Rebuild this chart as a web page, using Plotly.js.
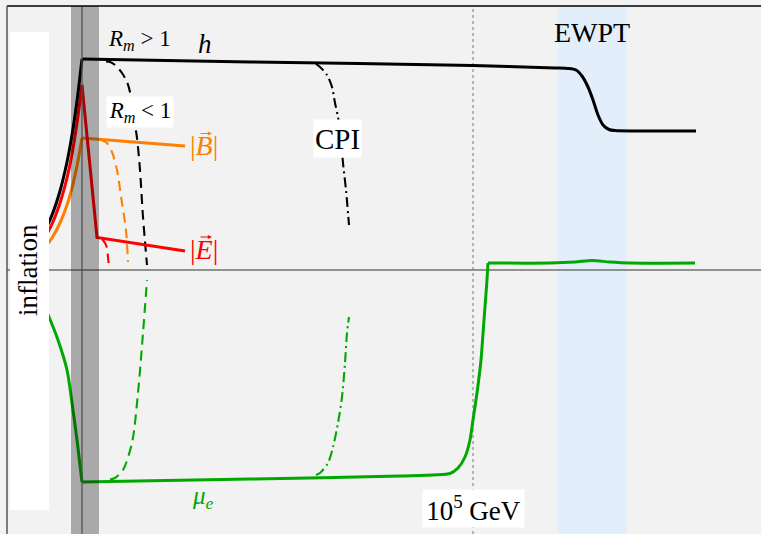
<!DOCTYPE html>
<html>
<head>
<meta charset="utf-8">
<script src="https://cdn.plot.ly/plotly-3.0.1.min.js"></script>
<style>html,body{margin:0;padding:0;background:#f2f2f2;}</style>
</head>
<body>
<div id="chart" style="width:761px;height:534px;"></div>
<script>
// Schematic amplitudes (arbitrary units) versus time (arbitrary units)
// h (helicity), growing during inflation
const hRiseX = [4.0, 4.5, 5.2, 6.0, 6.7, 7.2, 7.7, 8.2];
const hRiseY = [3.3, 4.0, 5.5, 7.9, 10.8, 13.5, 16.9, 21.1];
const hAfterX = [8.2, 25.0, 47.3, 55.5, 56.8, 57.6, 58.2, 58.8, 59.3, 59.8, 60.3, 60.9, 61.5, 69.6];
const hAfterY = [21.1, 20.8, 20.45, 20.2, 20.15, 20.0, 19.4, 18.3, 17.0, 15.5, 14.5, 14.05, 13.95, 13.9];

// |E|
const eRiseX = [4.0, 4.5, 5.2, 6.0, 6.7, 7.2, 7.7, 8.2];
const eRiseY = [2.7, 3.3, 4.6, 6.7, 9.2, 11.6, 14.7, 18.5];
const eAfterX = [8.2, 9.7, 18.5];
const eAfterY = [18.5, 3.25, 1.9];

// |B|
const bRiseX = [4.0, 4.5, 5.2, 6.0, 6.7, 7.2, 7.7, 8.2];
const bRiseY = [1.8, 2.3, 3.2, 4.7, 6.5, 8.2, 10.4, 13.2];
const bAfterX = [8.2, 18.5];
const bAfterY = [13.2, 12.4];

// mu_e
const muFallX = [4.0, 4.5, 4.9, 5.8, 6.7, 7.2, 7.7, 8.2];
const muFallY = [-3.0, -3.8, -4.7, -7.0, -10.0, -13.3, -17.0, -21.2];
const muAfterX = [8.2, 25.0, 40.0, 45.0, 45.8, 46.5, 47.0, 47.3, 47.7, 48.1, 48.4, 48.7, 48.8];
const muAfterY = [-21.2, -20.9, -20.6, -20.35, -19.8, -18.7, -17.0, -15.0, -12.3, -9.0, -5.0, -1.0, 0.7];
const muLateX = [48.8, 55.0, 57.5, 59.2, 61.0, 63.0, 69.5];
const muLateY = [0.7, 0.7, 0.8, 0.95, 0.8, 0.7, 0.7];

// R_m < 1 branches (dashed)
const hRmX = [10.6, 11.0, 11.5, 12.2, 12.7, 13.0, 13.3, 13.7, 14.0, 14.3, 14.7];
const hRmY = [20.85, 20.8, 20.5, 19.7, 18.8, 17.8, 15.8, 13.2, 10.0, 5.3, 0.5];
const bRmX = [10.0, 10.7, 11.2, 11.7, 12.2, 12.6, 12.8];
const bRmY = [13.05, 12.7, 11.8, 10.0, 6.7, 4.0, 0.8];
const eRmX = [10.2, 10.5, 10.7, 10.8, 10.9];
const eRmY = [3.1, 2.7, 2.2, 1.3, 0.3];
const muRmX = [11.0, 11.5, 12.3, 13.2, 13.8, 14.3, 14.7];
const muRmY = [-20.95, -20.8, -20.0, -17.3, -12.3, -6.3, -1.0];

// CPI branches (dash-dot)
const hCpiX = [31.6, 32.0, 32.7, 33.2, 33.5, 33.8, 34.1, 34.3, 34.6, 34.9];
const hCpiY = [20.6, 20.3, 19.5, 18.3, 16.7, 15.3, 13.0, 10.7, 8.0, 4.5];
const muCpiX = [31.6, 32.0, 32.8, 33.3, 33.8, 34.2, 34.5, 34.7, 34.9];
const muCpiY = [-20.5, -20.3, -19.3, -17.7, -15.3, -12.7, -9.3, -6.3, -4.7];

const BLACK = '#000000', RED = '#ff0000', ORANGE = '#ff8000', GREEN = '#00a800';
const SERIF = 'Liberation Serif, Times New Roman, serif';

function ln(x, y, color, width, dash, shape, smoothing) {
  const l = {color: color, width: width, dash: dash || 'solid', shape: shape || 'linear'};
  if (smoothing !== undefined) l.smoothing = smoothing;
  return {x: x, y: y, type: 'scatter', mode: 'lines', line: l, hoverinfo: 'skip', showlegend: false};
}

const DASH = '10px,6px', DASHDOT = '10px,4px,2px,4px';
const traces = [
  ln(muRmX, muRmY, GREEN, 2.1, DASH, 'spline', 0.8),
  ln(muCpiX, muCpiY, GREEN, 2.1, DASHDOT, 'spline', 0.8),
  ln(hRmX, hRmY, BLACK, 2.1, DASH, 'spline', 0.8),
  ln(hCpiX, hCpiY, BLACK, 2.1, DASHDOT, 'spline', 0.8),
  ln(bRmX, bRmY, ORANGE, 2.1, DASH, 'spline', 0.8),
  ln(eRmX, eRmY, RED, 2.1, DASH, 'spline', 0.8),
  ln(muFallX, muFallY, GREEN, 3, 'solid', 'spline', 0.8),
  ln(muAfterX, muAfterY, GREEN, 3, 'solid', 'spline', 0.6),
  ln(muLateX, muLateY, GREEN, 3, 'solid', 'spline', 0.8),
  ln(bRiseX, bRiseY, ORANGE, 3, 'solid', 'spline', 0.8),
  ln(bAfterX, bAfterY, ORANGE, 3),
  ln(eRiseX, eRiseY, RED, 3, 'solid', 'spline', 0.8),
  ln(eAfterX, eAfterY, RED, 3),
  ln(hRiseX, hRiseY, BLACK, 3, 'solid', 'spline', 0.8),
  ln(hAfterX, hAfterY, BLACK, 3, 'solid', 'spline', 0.7)
];

const YTOP = 26.4, YBOT = -26.4;
const shapes = [
  // EWPT band
  {type: 'rect', layer: 'below', xref: 'x', yref: 'y', x0: 55.8, x1: 62.7, y0: YBOT, y1: YTOP, fillcolor: '#e2eefa', line: {width: 0}},
  // 10^5 GeV marker
  {type: 'line', layer: 'below', xref: 'x', yref: 'y', x0: 47.3, x1: 47.3, y0: YBOT, y1: YTOP, line: {color: '#777777', width: 1, dash: '3px,3px'}},
  // zero line
  {type: 'line', layer: 'below', xref: 'x', yref: 'y', x0: 0.7, x1: 76.1, y0: 0, y1: 0, line: {color: '#707070', width: 1.5}},
  // end of inflation band
  {type: 'rect', layer: 'above', xref: 'x', yref: 'y', x0: 7.1, x1: 9.9, y0: YBOT, y1: YTOP, fillcolor: 'rgba(0,0,0,0.3)', line: {width: 0}},
  {type: 'line', layer: 'above', xref: 'x', yref: 'y', x0: 8.2, x1: 8.2, y0: YBOT, y1: YTOP, line: {color: '#4a4a4a', width: 1.2}},
  // inflation white box
  {type: 'rect', layer: 'above', xref: 'x', yref: 'y', x0: 1.0, x1: 4.9, y0: -24.0, y1: 23.8, fillcolor: '#ffffff', line: {width: 0}},
  // frame
  {type: 'line', layer: 'above', xref: 'x', yref: 'y', x0: 0.7, x1: 76.1, y0: YTOP, y1: YTOP, line: {color: '#000000', width: 1.5}},
  {type: 'line', layer: 'above', xref: 'x', yref: 'y', x0: 0.7, x1: 0.7, y0: YBOT, y1: YTOP, line: {color: '#555555', width: 1.5}}
];

function ann(x, y, text, size, color, extra) {
  const a = {x: x, y: y, xref: 'x', yref: 'y', text: text, showarrow: false,
             font: {family: SERIF, size: size, color: color}, xanchor: 'center', yanchor: 'middle'};
  return Object.assign(a, extra || {});
}
function vecArrow(x, y, color) {
  return {x: x, y: y, xref: 'x', yref: 'y', text: '', showarrow: true, ax: -13, ay: 0,
          arrowhead: 2, arrowsize: 0.7, arrowwidth: 1.2, arrowcolor: color, standoff: 0, startstandoff: 0};
}

const annotations = [
  ann(13.9, 23.0, '<i>R<sub>m</sub></i> &gt; 1', 23, BLACK),
  ann(20.5, 22.6, '<i>h</i>', 27, BLACK),
  ann(14.0, 15.8, '<i>R<sub>m</sub></i> &lt; 1', 23, BLACK, {bgcolor: '#ffffff', width: 64, height: 28, borderpad: 1}),
  ann(33.75, 13.15, 'CPI', 29, BLACK, {bgcolor: '#ffffff', width: 45, height: 35, borderpad: 1}),
  ann(59.2, 23.8, 'EWPT', 28, BLACK),
  ann(20.4, 12.5, '|<i>B</i>|', 28, ORANGE),
  vecArrow(21.2, 13.65, ORANGE),
  ann(20.4, 2.1, '|<i>E</i>|', 28, RED),
  vecArrow(21.2, 3.3, RED),
  ann(47.35, -23.85, '10<sup>5</sup> GeV', 27, BLACK, {bgcolor: '#ffffff', width: 99, height: 35, borderpad: 1}),
  ann(20.3, -22.7, '<i>μ<sub>e</sub></i>', 25, GREEN),
  ann(2.8, 0, 'inflation', 27, BLACK, {textangle: -90})
];

const layout = {
  width: 761, height: 534, autosize: false,
  margin: {l: 0, r: 0, t: 0, b: 0, pad: 0},
  paper_bgcolor: '#f2f2f2', plot_bgcolor: '#f2f2f2',
  xaxis: {range: [0, 76.1], visible: false, fixedrange: true},
  yaxis: {range: [-26.4, 27.0], visible: false, fixedrange: true},
  shapes: shapes, annotations: annotations, showlegend: false
};

Plotly.newPlot('chart', traces, layout, {displayModeBar: false});
</script>
</body>
</html>
